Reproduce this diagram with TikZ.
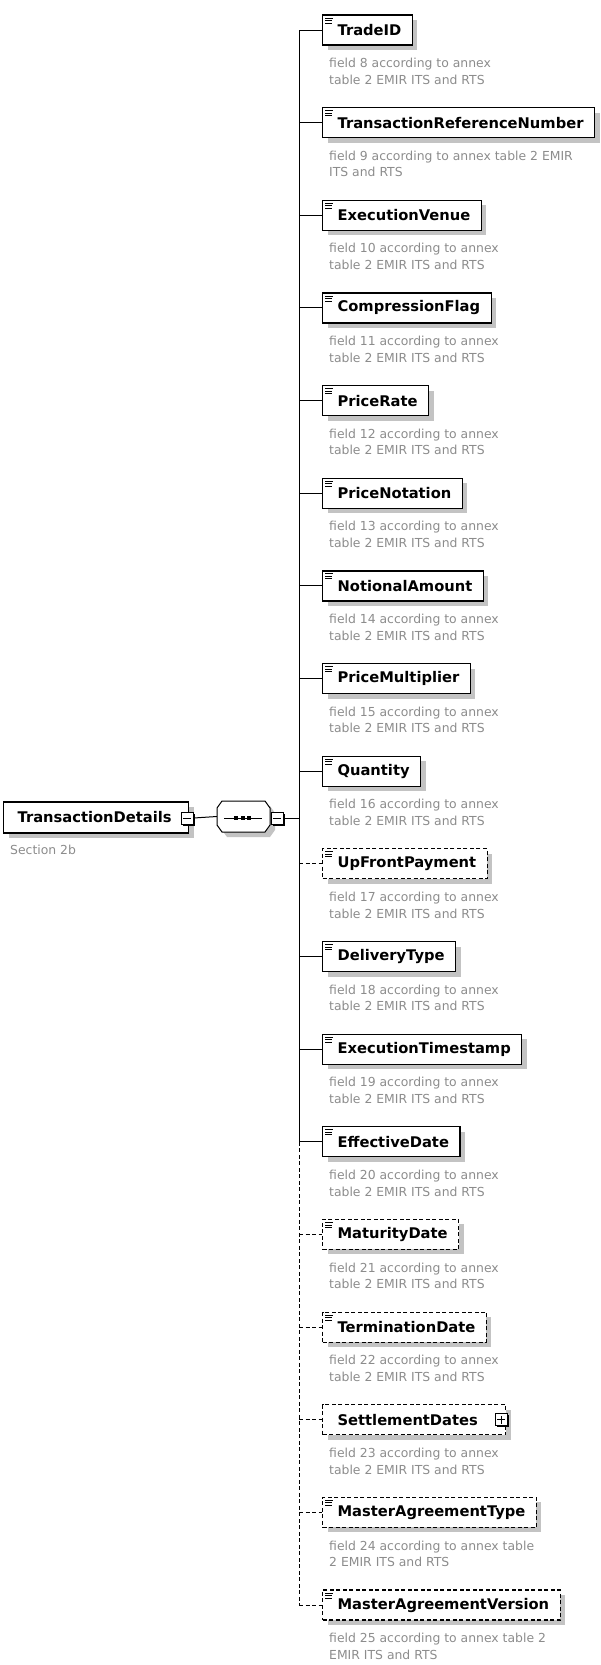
\documentclass[tikz,border=0pt]{standalone}
\usepackage{fontspec}
\setmainfont{DejaVu Sans}
\usetikzlibrary{shadows,calc}
\definecolor{shadowgray}{RGB}{195,195,195}
\definecolor{descgray}{RGB}{140,140,140}
\tikzset{
  elbox/.style={draw, line width=1.2pt, fill=white, minimum height=30pt, inner xsep=11pt, inner ysep=0pt, anchor=west,
    font=\fontsize{14.7}{17}\selectfont\bfseries,
    general shadow={fill=shadowgray, shadow xshift=5pt, shadow yshift=-5pt}},
  optbox/.style={elbox, dash pattern=on 4pt off 2.5pt},
  desc/.style={anchor=north west, inner sep=0pt, align=left, text=descgray, font=\fontsize{12.4}{16.7}\selectfont},
  conn/.style={line width=1pt},
  optconn/.style={line width=1pt, dash pattern=on 4pt off 2.5pt},
  pmbox/.style={draw, line width=1pt, fill=white, minimum size=12pt, inner sep=0pt,
    general shadow={fill=black, shadow xshift=1.5pt, shadow yshift=-1.5pt}},
  icon/.style={line width=0.7pt},
}
\begin{document}
\begin{tikzpicture}[x=1pt,y=-1pt]
\useasboundingbox (0,0) rectangle (600,1665);

% parent element
\node[elbox, minimum width=185pt, text width=157pt, inner xsep=14pt, align=left, minimum height=31pt] (par) at (3,817.5) {TransactionDetails};
\node[pmbox] (pm) at (187,818) {};
\draw[line width=1pt] ($(pm.center)+(-4,0)$) -- ($(pm.center)+(4,0)$);
\node[desc] (sec) at (10,845) {Section 2b};

% sequence compositor
\fill[shadowgray] (227,806) -- (270,806) -- (275,813) -- (275,830) -- (270,837) -- (227,837) -- (222,830) -- (222,813) -- cycle;
\draw[line width=1pt, fill=white] (222,801) -- (265,801) -- (270,808) -- (270,825) -- (265,832) -- (222,832) -- (217,825) -- (217,808) -- cycle;
\node[minimum width=53pt, minimum height=31pt, inner sep=0pt] (seq) at (243.5,816.5) {};
\draw[line width=1pt] (224,818) -- (262,818);
\foreach \dx in {236,242.5,249} \fill ({\dx-2},816) rectangle ({\dx+2},820);
\node[pmbox] (sm) at (277,818) {};
\draw[line width=1pt] ($(sm.center)+(-4,0)$) -- ($(sm.center)+(4,0)$);
\draw[conn] (pm.east) -- (seq.west);
\coordinate (tm) at (299,818);
\draw[conn] (sm.east) -- (tm);

% children
\foreach \i/\lab/\kind/\la/\lb in {
 0/TradeID/0/{field 8 according to annex}/{table 2 EMIR ITS and RTS},
 1/TransactionReferenceNumber/0/{field 9 according to annex table 2 EMIR}/{ITS and RTS},
 2/ExecutionVenue/0/{field 10 according to annex}/{table 2 EMIR ITS and RTS},
 3/CompressionFlag/0/{field 11 according to annex}/{table 2 EMIR ITS and RTS},
 4/PriceRate/0/{field 12 according to annex}/{table 2 EMIR ITS and RTS},
 5/PriceNotation/0/{field 13 according to annex}/{table 2 EMIR ITS and RTS},
 6/NotionalAmount/0/{field 14 according to annex}/{table 2 EMIR ITS and RTS},
 7/PriceMultiplier/0/{field 15 according to annex}/{table 2 EMIR ITS and RTS},
 8/Quantity/0/{field 16 according to annex}/{table 2 EMIR ITS and RTS},
 9/UpFrontPayment/1/{field 17 according to annex}/{table 2 EMIR ITS and RTS},
 10/DeliveryType/0/{field 18 according to annex}/{table 2 EMIR ITS and RTS},
 11/ExecutionTimestamp/0/{field 19 according to annex}/{table 2 EMIR ITS and RTS},
 12/EffectiveDate/0/{field 20 according to annex}/{table 2 EMIR ITS and RTS},
 13/MaturityDate/1/{field 21 according to annex}/{table 2 EMIR ITS and RTS},
 14/TerminationDate/1/{field 22 according to annex}/{table 2 EMIR ITS and RTS},
 15/SettlementDates/2/{field 23 according to annex}/{table 2 EMIR ITS and RTS},
 16/MasterAgreementType/1/{field 24 according to annex table}/{2 EMIR ITS and RTS},
 17/MasterAgreementVersion/1/{field 25 according to annex table 2}/{EMIR ITS and RTS}} {
  \pgfmathsetmacro\yy{30+92.65*\i}
  \coordinate (t\i) at (299,\yy);
  \ifnum\kind=0
    \node[elbox] (c\i) at (322,\yy) {\hspace*{4pt}\lab};
    \draw[conn] (t\i) -- (c\i.west);
  \else
    \ifnum\kind=1
      \node[optbox] (c\i) at (322,\yy) {\hspace*{4pt}\lab};
    \else
      \node[optbox] (c\i) at (322,\yy) {\hspace*{4pt}\lab\hspace*{17pt}};
      \node[pmbox] (p\i) at ($(c\i.east)+(-5,0)$) {};
      \draw[line width=1pt] ($(p\i.center)+(-4,0)$) -- ($(p\i.center)+(4,0)$);
      \draw[line width=1pt] ($(p\i.center)+(0,-4)$) -- ($(p\i.center)+(0,4)$);
    \fi
    \draw[optconn] (t\i) -- (c\i.west);
  \fi
  \ifnum\kind<2
    \draw[icon] ($(c\i.north west)+(3,3.5)$) -- ++(8,0);
    \draw[icon] ($(c\i.north west)+(3,6)$) -- ++(7,0);
    \draw[icon] ($(c\i.north west)+(3,8.5)$) -- ++(7,0);
  \fi
  \node[desc] (d\i) at (329,{\yy+28}) {\la\\\lb};
}

% trunk
\draw[conn] (t0) -- (t12);
\draw[optconn] (t12) -- (t17);
\end{tikzpicture}
\end{document}
